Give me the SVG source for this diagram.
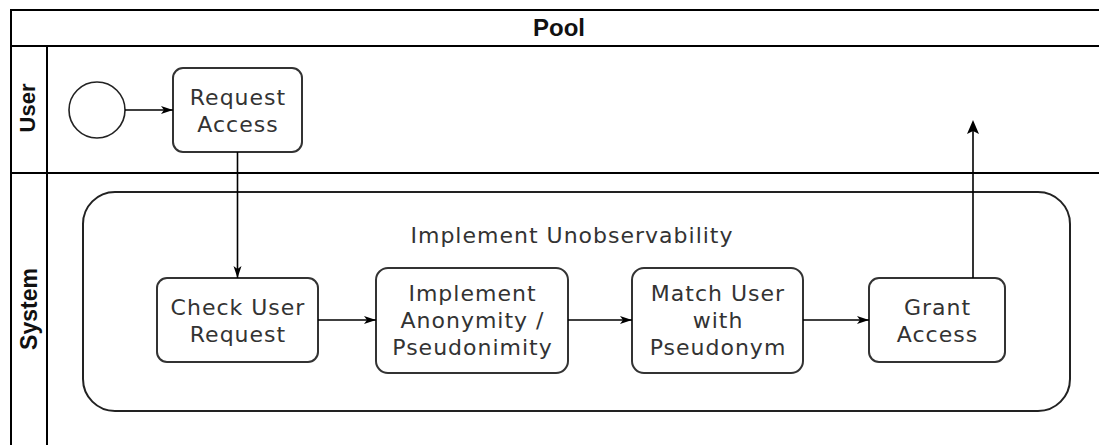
<svg xmlns="http://www.w3.org/2000/svg" width="1099" height="445" viewBox="0 0 1099 445">
<defs>
<marker id="arr" viewBox="0 0 12 10" refX="12" refY="5" markerWidth="12" markerHeight="10" markerUnits="userSpaceOnUse" orient="auto">
<path d="M0,1 L12,5 L0,9 L3,5 Z" fill="#000"/>
</marker>
</defs>
<style>
.pool{fill:#fff;stroke:#000;stroke-width:2}
.lane{fill:none;stroke:#000;stroke-width:2}
.task{fill:#fff;stroke:#333;stroke-width:2}
.sub{fill:none;stroke:#222;stroke-width:2}
.t{font-family:"DejaVu Sans",Verdana,sans-serif;font-size:22px;letter-spacing:1px;fill:#333;text-anchor:middle}
.h{font-family:"Liberation Sans",Arial,sans-serif;font-weight:bold;fill:#111;text-anchor:middle}
.c{fill:none;stroke:#000;stroke-width:1.6}
</style>
<rect width="1099" height="445" fill="#fff"/>
<g id="pool">
<rect class="pool" x="11" y="10" width="1100" height="450"/>
<line class="lane" x1="11" y1="46" x2="1099" y2="46"/>
<line class="lane" x1="11" y1="173" x2="1099" y2="173"/>
<line class="lane" x1="47" y1="46" x2="47" y2="445"/>
<text class="h" x="559" y="36" font-size="24">Pool</text>
</g>
<g id="lane-user">
<text class="h" font-size="22" transform="translate(35,108) rotate(-90)">User</text>
</g>
<g id="lane-system">
<text class="h" font-size="23" transform="translate(37,309) rotate(-90)">System</text>
</g>
<g id="subprocess">
<rect class="sub" x="83" y="192" width="987" height="219" rx="32" ry="32"/>
<text class="t" x="572" y="243">Implement Unobservability</text>
</g>
<g id="start">
<circle cx="97" cy="110" r="28" fill="#fff" stroke="#222" stroke-width="1.6"/>
</g>
<g id="request-access">
<rect class="task" x="173" y="68" width="129" height="84" rx="10" ry="10"/>
<text class="t" x="238" y="105">Request</text>
<text class="t" x="238" y="132">Access</text>
</g>
<g id="check-user-request">
<rect class="task" x="157" y="278" width="161" height="84" rx="10" ry="10"/>
<text class="t" x="238" y="315">Check User</text>
<text class="t" x="238" y="342">Request</text>
</g>
<g id="implement-anonymity">
<rect class="task" x="376" y="268" width="192" height="105" rx="12" ry="12"/>
<text class="t" x="472.5" y="301">Implement</text>
<text class="t" x="472.5" y="328">Anonymity /</text>
<text class="t" x="472.5" y="355">Pseudonimity</text>
</g>
<g id="match-user">
<rect class="task" x="632" y="268" width="171" height="105" rx="12" ry="12"/>
<text class="t" x="718" y="301">Match User</text>
<text class="t" x="718" y="328">with</text>
<text class="t" x="718" y="355">Pseudonym</text>
</g>
<g id="grant-access">
<rect class="task" x="869" y="278" width="136" height="84" rx="10" ry="10"/>
<text class="t" x="937.5" y="315">Grant</text>
<text class="t" x="937.5" y="342">Access</text>
</g>
<g id="connectors">
<line class="c" x1="125" y1="110" x2="173" y2="110" marker-end="url(#arr)"/>
<line class="c" x1="237.5" y1="152" x2="237.5" y2="278" marker-end="url(#arr)"/>
<line class="c" x1="318" y1="320" x2="376" y2="320" marker-end="url(#arr)"/>
<line class="c" x1="568" y1="320" x2="632" y2="320" marker-end="url(#arr)"/>
<line class="c" x1="803" y1="320" x2="869" y2="320" marker-end="url(#arr)"/>
<line class="c" x1="973" y1="278" x2="973" y2="124"/>
<path d="M973,120 L979,134 L973,131 L967,134 Z" fill="#000"/>
</g>
</svg>
